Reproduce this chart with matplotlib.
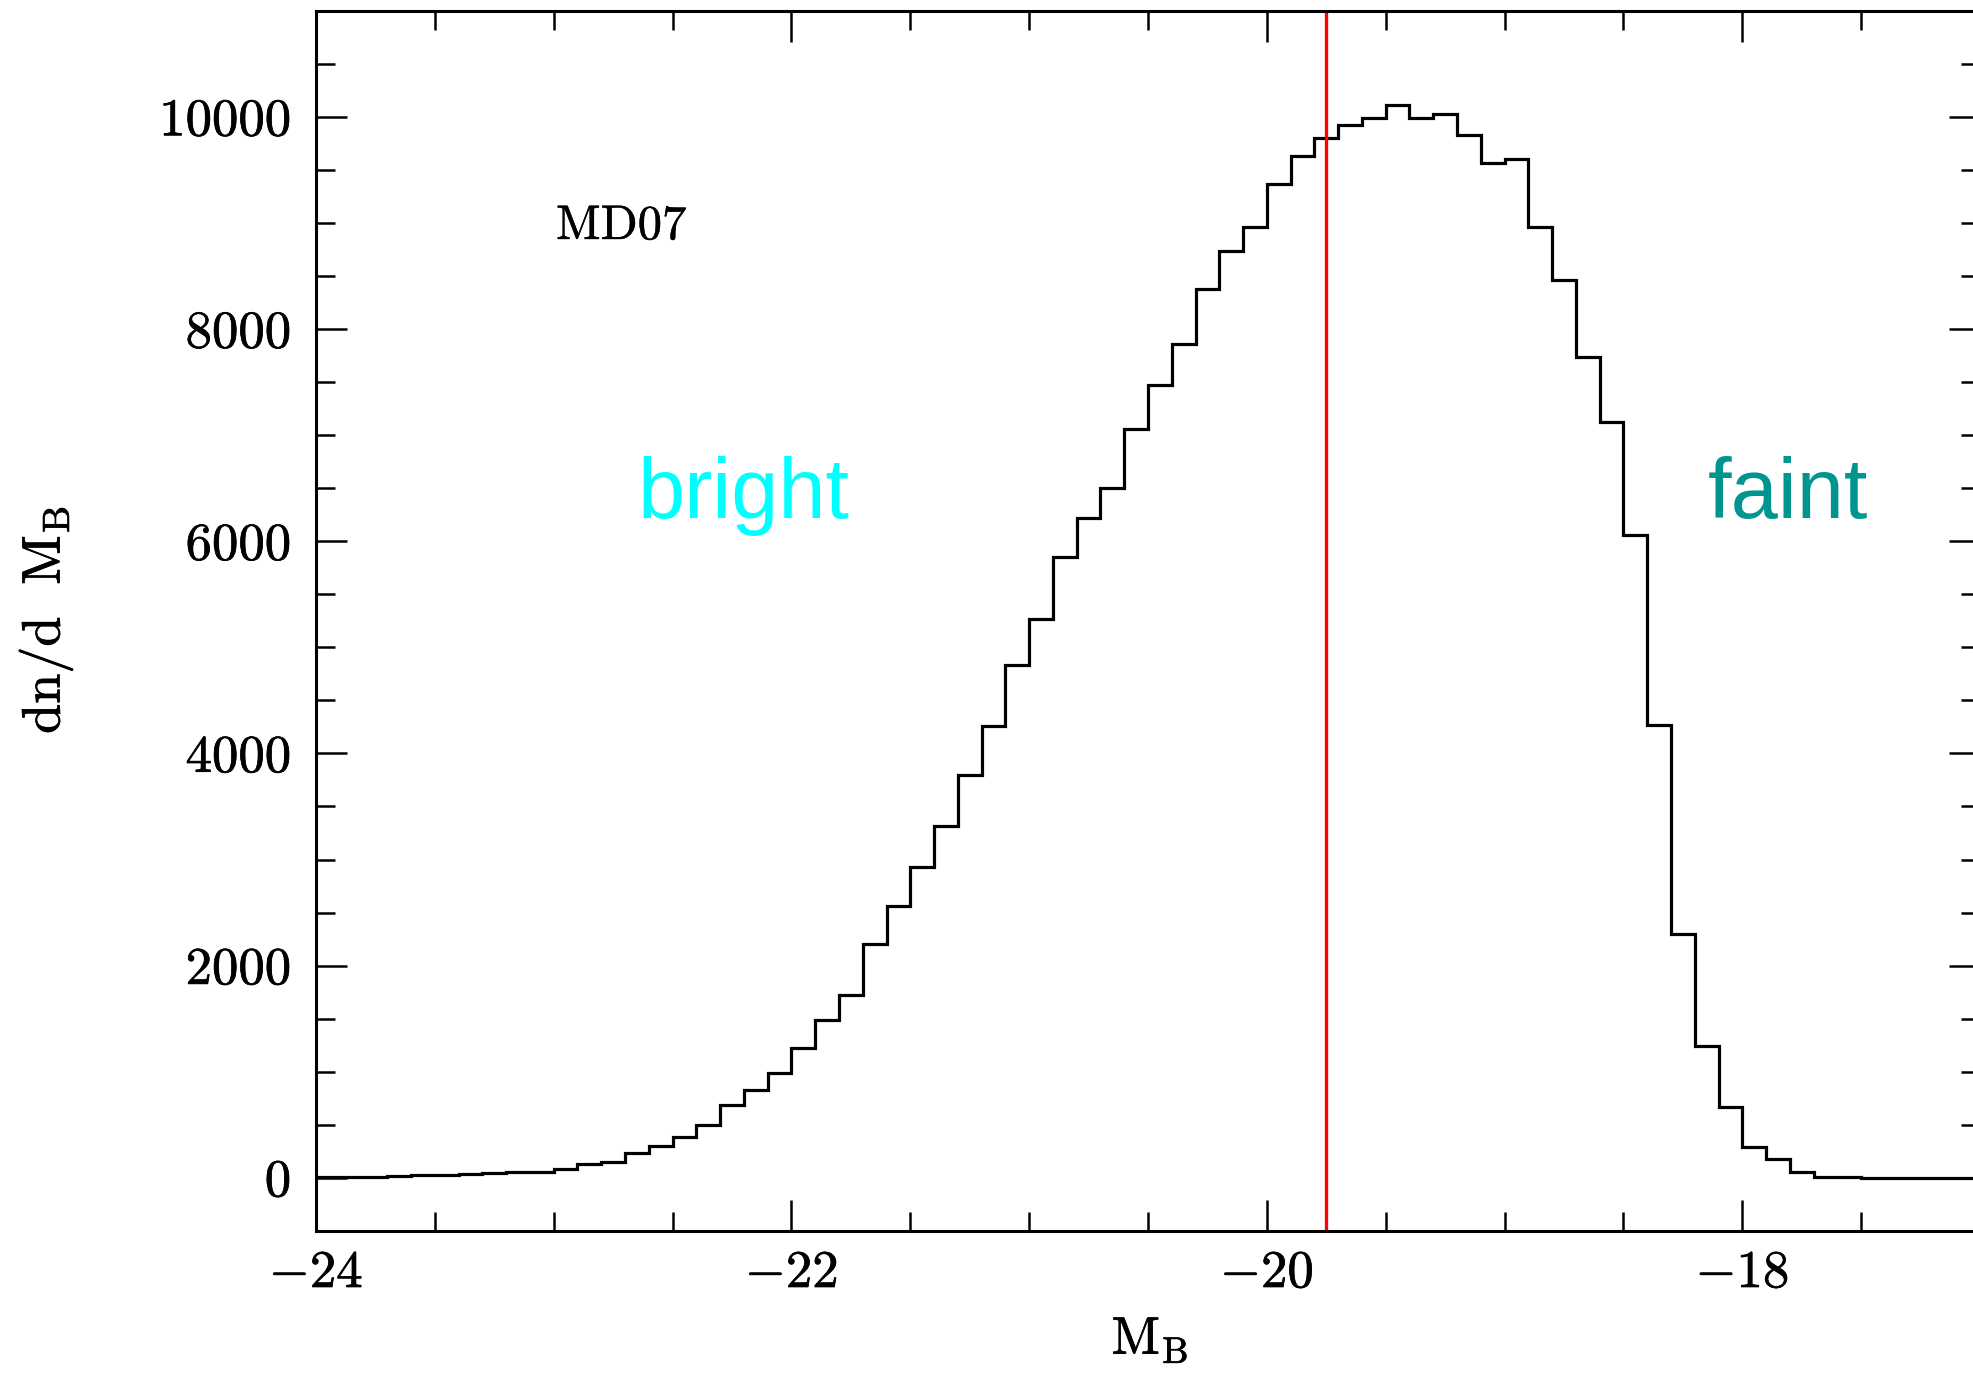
import numpy as np
import matplotlib
matplotlib.use("Agg")
import matplotlib.pyplot as plt
import matplotlib.patheffects as pe
from matplotlib.ticker import MultipleLocator

plt.rcParams['mathtext.fontset'] = 'cm'
plt.rcParams['font.family'] = ['cmr10', 'DejaVu Serif']
plt.rcParams['axes.formatter.use_mathtext'] = True
plt.rcParams['axes.unicode_minus'] = True

# ---- data ----
bin_start = -24.0
bin_width = 0.1
counts = [3, 5, 8, 15, 22, 30, 32, 45, 50, 52,
          85, 130, 145, 230, 300, 385, 500, 690, 830, 990,
          1225, 1490, 1720, 2200, 2560, 2930, 3320, 3800, 4260, 4830,
          5270, 5850, 6220, 6500, 7060, 7470, 7860, 8380, 8740, 8960,
          9370, 9630, 9800, 9920, 9990, 10110, 9990, 10030, 9830, 9570,
          9600, 8960, 8460, 7740, 7120, 6060, 4270, 2300, 1240, 665,
          287, 176, 52, 5, 3, 2, 2, 1, 1, 1]
split_mag = -19.75
xticks = [-24, -22, -20, -18]
yticks = [0, 2000, 4000, 6000, 8000, 10000]
label_tag = "MD07"
label_bright = "bright"
label_faint = "faint"

edges = bin_start + bin_width * np.arange(len(counts) + 1)

W, H = 1973, 1374
fig = plt.figure(figsize=(W / 100, H / 100), dpi=100)
left, right, top, bottom = 316, 1980, 10.9, 1230.8
ax = fig.add_axes([left / W, 1 - bottom / H, (right - left) / W, (bottom - top) / H])

ax.stairs(counts, edges, color='black', linewidth=2.3, baseline=None)
ax.axvline(split_mag, color='#ff0000', linewidth=2.4)

ax.set_xlim(-24, -17)
ax.set_ylim(-500, 11000)
ax.set_xticks(xticks)
ax.set_yticks(yticks)
ax.xaxis.set_minor_locator(MultipleLocator(0.5))
ax.yaxis.set_minor_locator(MultipleLocator(500))

ax.tick_params(which='both', direction='in', top=True, right=True, width=1.8)
ax.tick_params(which='major', length=22, labelsize=38)
ax.tick_params(axis='x', which='major', pad=14)
ax.tick_params(axis='y', which='major', pad=18)
ax.tick_params(which='minor', length=14)
for s in ['left', 'top', 'bottom']:
    ax.spines[s].set_linewidth(2.2)
ax.spines['right'].set_visible(False)

thick = [pe.withStroke(linewidth=0.5, foreground='black')]
for lab in ax.get_xticklabels() + ax.get_yticklabels():
    lab.set_path_effects(thick)

ax.text(-22.99, 8850, label_tag, fontsize=35, family=['cmr10'], ha='left', va='baseline',
        path_effects=[pe.withStroke(linewidth=0.3, foreground='black')])
ax.text(-22.2, 6220, label_bright, fontsize=61, family=['Liberation Sans'],
        color='#00ffff', ha='center', va='baseline')
ax.text(-17.81, 6220, label_faint, fontsize=61, family=['Liberation Sans'],
        color='#00958f', ha='center', va='baseline')

fig.text(1150 / W, 1 - 1354 / H, r'$\mathrm{M_B}$', fontsize=38, ha='center', va='baseline',
         path_effects=thick)
fig.text(46 / W, 1 - 620 / H, r'$\mathrm{dn/d\ \ M_B}$', fontsize=39,
         rotation=90, ha='center', va='center', path_effects=thick)

fig.savefig('out.png', dpi=100)
